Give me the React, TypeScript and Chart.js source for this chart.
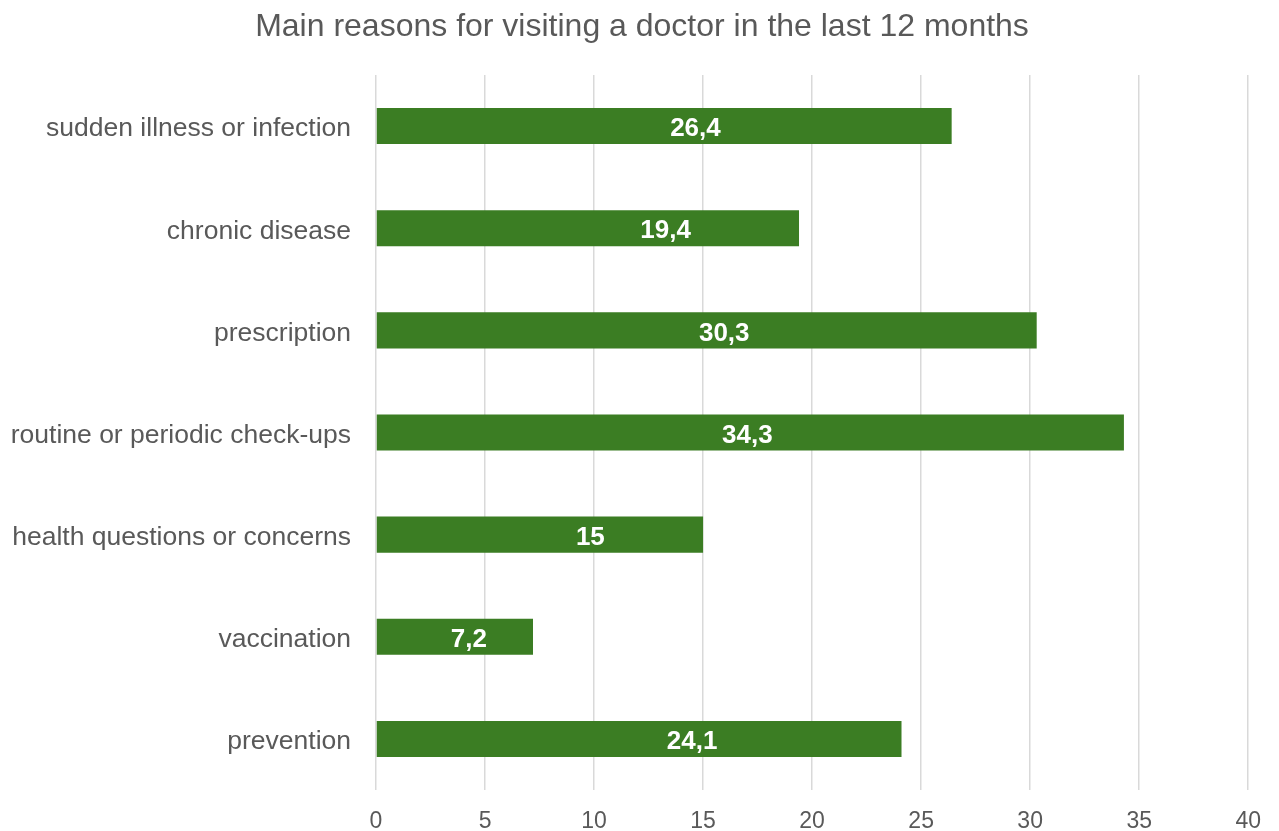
import React, { useEffect, useRef } from "react";
import { Chart, registerables } from "chart.js";

Chart.register(...registerables);

const categories = [
  "sudden illness or infection",
  "chronic disease",
  "prescription",
  "routine or periodic check-ups",
  "health questions or concerns",
  "vaccination",
  "prevention",
];
const values = [26.4, 19.4, 30.3, 34.3, 15, 7.2, 24.1];
const valueLabels = ["26,4", "19,4", "30,3", "34,3", "15", "7,2", "24,1"];
// where each value label sits along the value axis
const labelCenters = [14.65, 13.28, 15.97, 17.03, 9.83, 4.26, 14.5];
const xTicks = [0, 5, 10, 15, 20, 25, 30, 35, 40];

const FONT = "'Liberation Sans', Arial, Helvetica, sans-serif";
const GRAY = "#595959";

const valueLabelPlugin = {
  id: "valueLabels",
  afterDatasetsDraw(chart: any) {
    const ctx = chart.ctx;
    const meta = chart.getDatasetMeta(0);
    const xScale = chart.scales.x;
    ctx.save();
    ctx.font = `bold 26px ${FONT}`;
    ctx.fillStyle = "#ffffff";
    ctx.textAlign = "center";
    ctx.textBaseline = "middle";
    meta.data.forEach((bar: any, i: number) => {
      const x = xScale.getPixelForValue(labelCenters[i]);
      ctx.fillText(valueLabels[i], x, bar.y + 3);
    });
    ctx.restore();
  },
};

export default function App() {
  const ref = useRef<HTMLCanvasElement | null>(null);
  useEffect(() => {
    if (!ref.current) return;
    const chart = new Chart(ref.current, {
      type: "bar",
      data: {
        labels: categories,
        datasets: [
          {
            data: values,
            backgroundColor: "#3B7D23",
            borderWidth: 0,
            barPercentage: 0.353,
            categoryPercentage: 1,
            xAxisID: "x",
            yAxisID: "y",
          },
        ],
      },
      options: {
        indexAxis: "y",
        responsive: false,
        animation: false,
        layout: { padding: { left: 5, right: 0, top: 0, bottom: 0 } },
        plugins: {
          legend: { display: false },
          tooltip: { enabled: false },
          title: {
            display: true,
            text: "Main reasons for visiting a doctor in the last 12 months",
            color: GRAY,
            font: { family: FONT, size: 32, weight: "normal" },
            padding: { top: 8, bottom: 28.6 },
          },
        },
        scales: {
          x: {
            min: 0,
            max: 40,
            afterBuildTicks: (axis: any) => {
              axis.ticks = xTicks.map((v) => ({ value: v }));
            },
            afterFit: (axis: any) => {
              axis.height = 41;
            },
            grid: {
              color: "#d9d9d9",
              lineWidth: 1.5,
              drawTicks: false,
            },
            border: { display: false },
            ticks: {
              color: GRAY,
              padding: 18,
              font: { family: FONT, size: 23 },
            },
          },
          y: {
            position: "left",
            afterFit: (axis: any) => {
              axis.width = 371;
            },
            grid: { display: false, drawTicks: false },
            border: { display: false },
            ticks: {
              color: GRAY,
              padding: 25,
              labelOffset: 3,
              font: { family: FONT, size: 26.5 },
            },
          },
          yRight: {
            type: "linear",
            position: "right",
            afterFit: (axis: any) => {
              axis.width = 27;
            },
            grid: { display: false, drawTicks: false },
            border: { display: false },
            ticks: { display: false },
          },
        },
      },
      plugins: [valueLabelPlugin],
    } as any);
    return () => chart.destroy();
  }, []);
  return (
    <div style={{ position: "fixed", left: 0, top: 0, width: 1279, height: 831, background: "#fff" }}>
      <canvas ref={ref} width={1279} height={831} />
    </div>
  );
}
